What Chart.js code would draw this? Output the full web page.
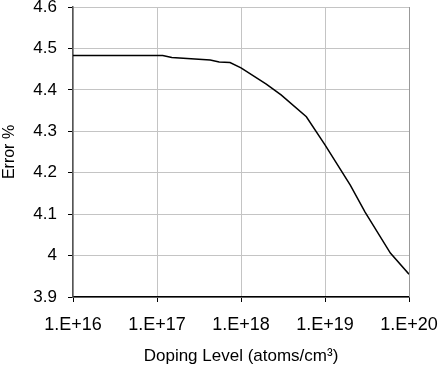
<!DOCTYPE html>
<html>
<head>
<meta charset="utf-8">
<script src="https://cdn.jsdelivr.net/npm/chart.js@4/dist/chart.umd.min.js"></script>
<style>
  html, body { margin: 0; padding: 0; background: #fff; }
  #wrap { width: 440px; height: 372px; }
</style>
</head>
<body>
<div id="wrap"><canvas id="errorChart" width="440" height="372"></canvas></div>
<script>
// doping level (atoms/cm3) and error %
const dopingLevels = [1e16, 1.17e17, 1.5e17, 4.3e17, 5.5e17, 7.4e17, 1e18, 2e18, 3e18, 6e18, 1e19, 2e19, 3e19, 6e19, 1e20];
const errorValues  = [4.483, 4.483, 4.478, 4.472, 4.467, 4.466, 4.453, 4.414, 4.388, 4.335, 4.267, 4.170, 4.105, 4.006, 3.955];

const xTicks = [1e16, 1e17, 1e18, 1e19, 1e20];
const yTicks = [3.9, 4, 4.1, 4.2, 4.3, 4.4, 4.5, 4.6];

const points = dopingLevels.map((d, i) => ({ x: d, y: errorValues[i] }));
const family = 'Liberation Sans, Arial, sans-serif';

new Chart(document.getElementById('errorChart'), {
  type: 'line',
  data: {
    datasets: [{
      data: points,
      borderColor: '#000',
      borderWidth: 1.5,
      pointRadius: 0,
      tension: 0,
      fill: false
    }]
  },
  options: {
    responsive: false,
    animation: false,
    layout: { padding: { top: 7, right: 31, left: 0, bottom: 0 } },
    plugins: {
      legend: { display: false },
      tooltip: { enabled: false }
    },
    scales: {
      x: {
        type: 'logarithmic',
        min: 1e16,
        max: 1e20,
        afterBuildTicks: axis => { axis.ticks = xTicks.map(v => ({ value: v })); },
        afterFit: axis => {
          axis.height = 75;
          axis.paddingLeft = 0;
          axis.paddingRight = 0;
        },
        ticks: {
          color: '#000',
          font: { family: family, size: 18 },
          padding: 12,
          maxRotation: 0,
          autoSkip: false,
          callback: v => '1.E+' + Math.round(Math.log10(v))
        },
        grid: { color: '#c4c4c4', tickColor: '#000', tickLength: 5, lineWidth: 1 },
        border: { color: '#000', width: 1.5 },
        title: {
          display: true,
          text: 'Doping Level (atoms/cm³)',
          color: '#000',
          font: { family: family, size: 17 },
          padding: { top: 0, bottom: 5 }
        }
      },
      y: {
        min: 3.9,
        max: 4.6,
        afterBuildTicks: axis => { axis.ticks = yTicks.map(v => ({ value: v })); },
        afterFit: axis => {
          axis.width = 73;
          axis.paddingTop = 0;
          axis.paddingBottom = 0;
        },
        ticks: {
          color: '#000',
          font: { family: family, size: 17 },
          padding: 11,
          callback: v => String(+v.toFixed(1))
        },
        grid: { color: '#c4c4c4', tickColor: '#000', tickLength: 5, lineWidth: 1 },
        border: { color: '#555', width: 1.5 },
        title: {
          display: true,
          text: 'Error %',
          color: '#000',
          font: { family: family, size: 16 },
          padding: { top: 0, bottom: 0 }
        }
      }
    }
  },
  plugins: [{
    // right edge of the plot box
    id: 'rightEdge',
    afterDraw(chart) {
      const { ctx, chartArea } = chart;
      ctx.save();
      ctx.strokeStyle = '#999';
      ctx.lineWidth = 1;
      ctx.beginPath();
      ctx.moveTo(chartArea.right + 0.5, chartArea.top);
      ctx.lineTo(chartArea.right + 0.5, chartArea.bottom);
      ctx.stroke();
      ctx.restore();
    }
  }]
});
</script>
</body>
</html>
